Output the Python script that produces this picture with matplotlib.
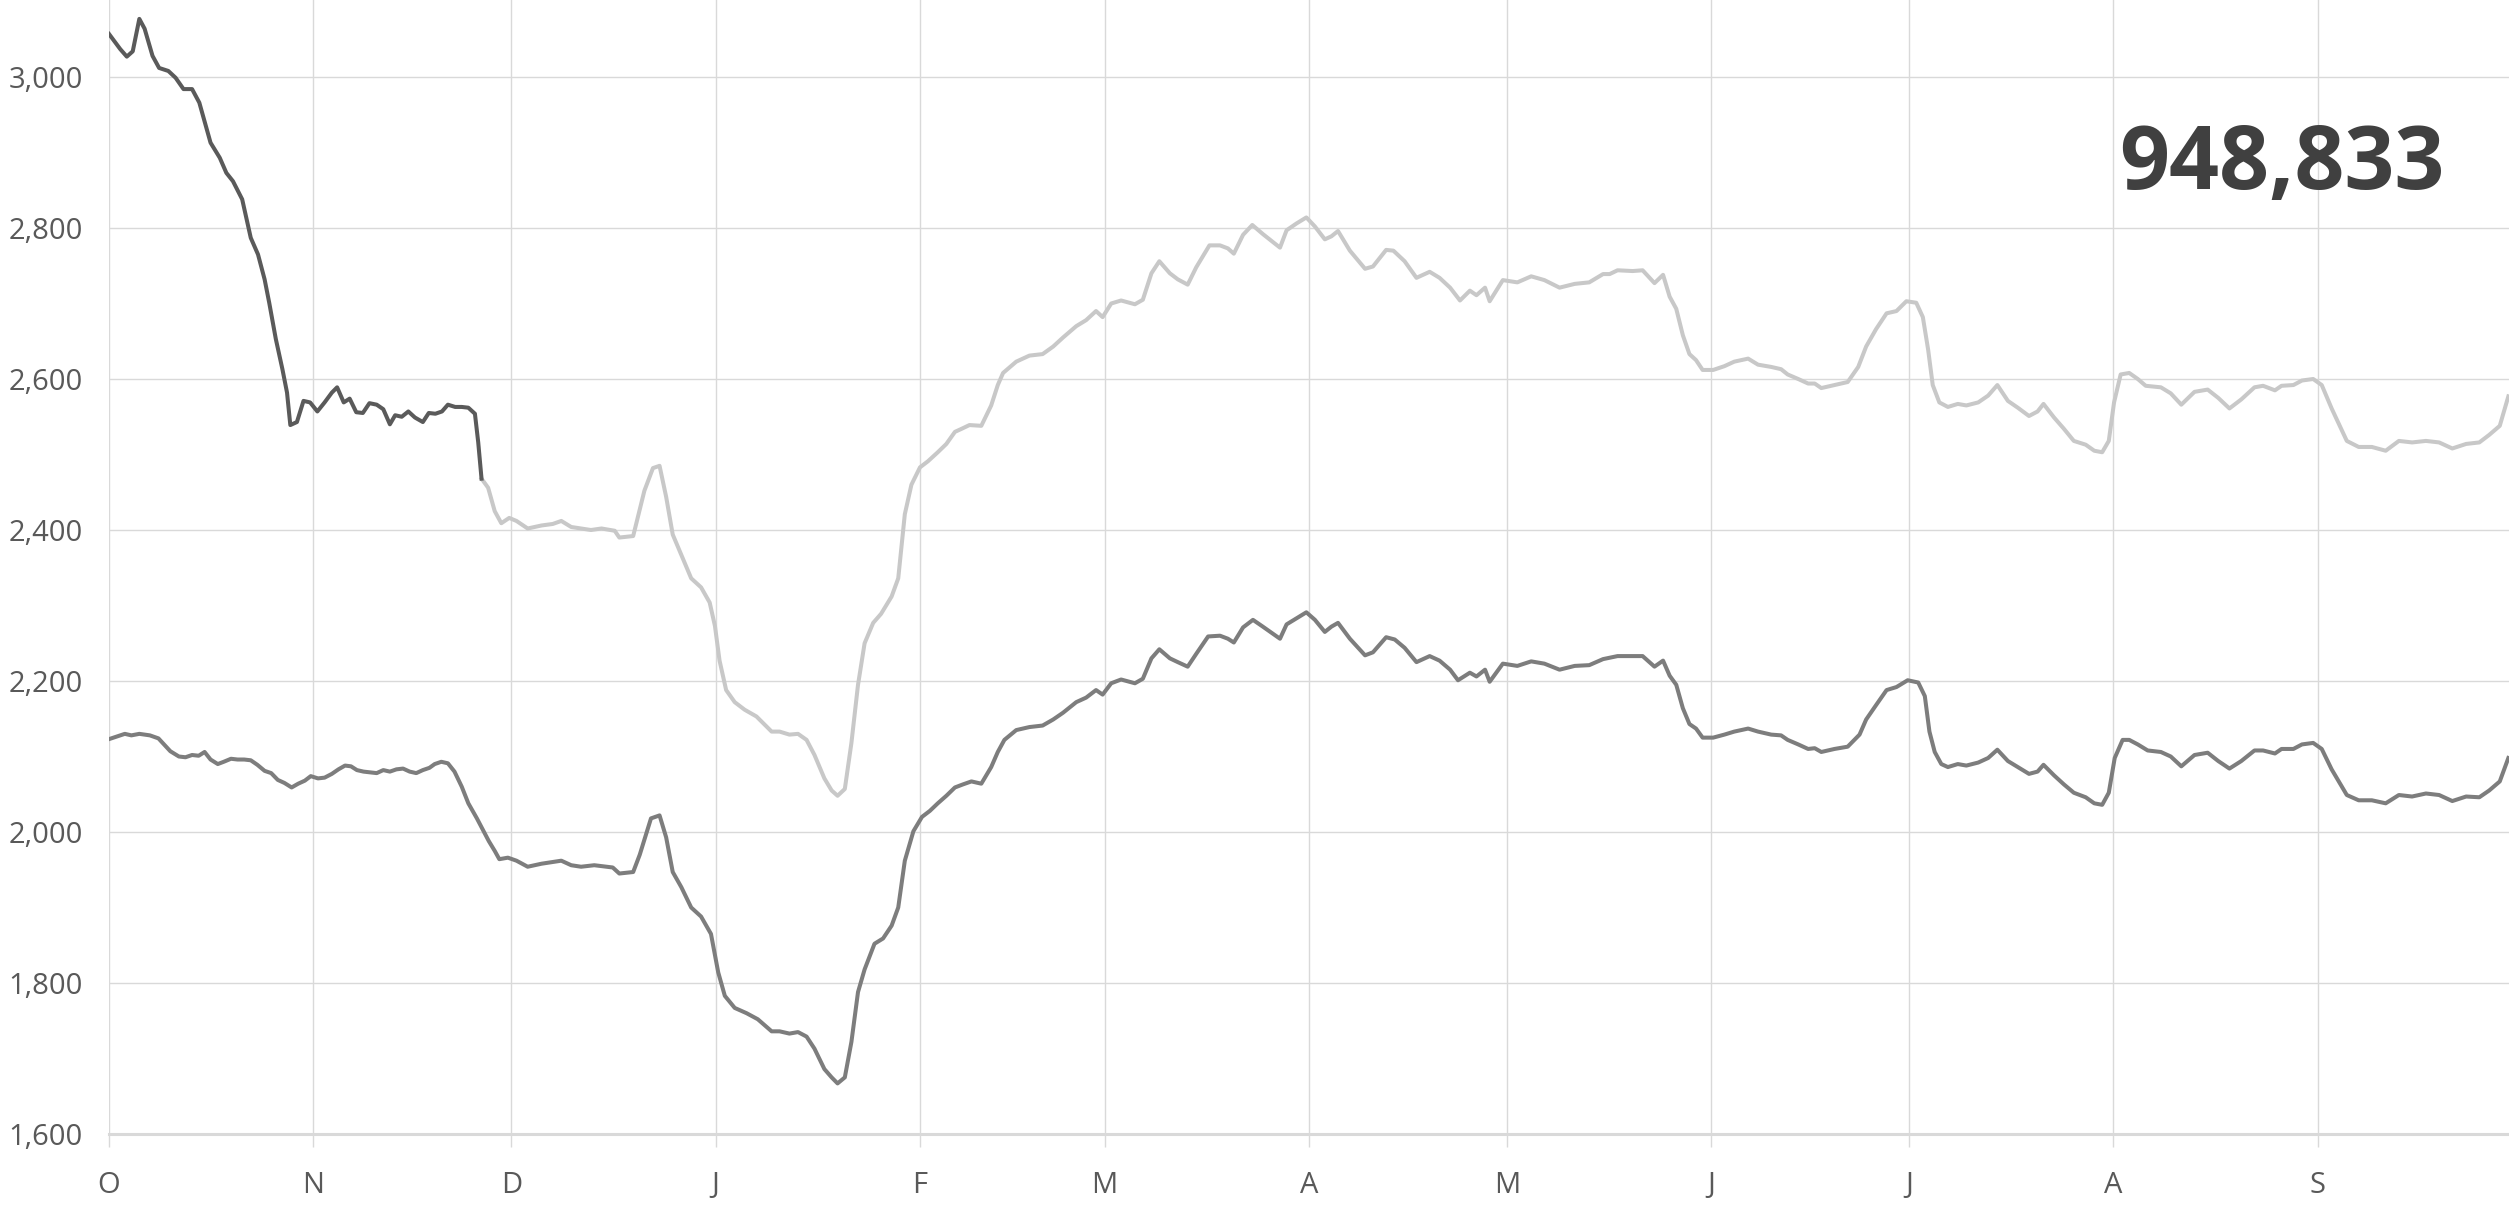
import numpy as np
import matplotlib
matplotlib.use('Agg')
import matplotlib.pyplot as plt

# data ------------------------------------------------------------------------

# x is day of the season, counted from 1 October
monthStarts = [0, 31, 61, 92, 123, 151, 182, 212, 243, 273, 304, 335]
monthLabels = ['O', 'N', 'D', 'J', 'F', 'M', 'A', 'M', 'J', 'J', 'A', 'S']
yTicks = [1600, 1800, 2000, 2200, 2400, 2600, 2800, 3000]
bigNumber = '948,833'

# upper series, first part (dark)
darkDays = [0.0, 1.7, 2.7, 3.6, 4.6, 5.4, 6.6, 7.6, 9.0, 10.1, 11.3, 12.6, 13.7,
            15.4, 16.8, 17.8, 18.8, 20.2, 21.5, 22.6, 23.6, 24.3, 25.3, 26.3,
            27.0, 27.5, 28.5, 29.5, 30.5, 31.6, 32.7, 33.8, 34.6, 35.6, 36.5,
            37.5, 38.5, 39.5, 40.6, 41.6, 42.6, 43.4, 44.4, 45.4, 46.4, 47.6,
            48.5, 49.5, 50.5, 51.4, 52.5, 53.5, 54.5, 55.5, 56.0, 56.5]
darkVals = [3057, 3037, 3027, 3034, 3077, 3064, 3028, 3012, 3008, 2999, 2984,
            2984, 2966, 2913, 2893, 2873, 2862, 2838, 2787, 2765, 2732, 2701,
            2653, 2613, 2582, 2539, 2543, 2571, 2569, 2557, 2569, 2582, 2589,
            2569, 2574, 2556, 2555, 2568, 2566, 2560, 2540, 2552, 2550, 2557,
            2549, 2543, 2555, 2554, 2557, 2566, 2563, 2563, 2562, 2554, 2516,
            2468]

# upper series, rest of the season (light)
lightDays = [56.5, 57.5, 58.5, 59.5, 60.7, 61.8, 63.5, 65.6, 67.3, 68.6, 70.1,
             71.6, 73.1, 74.7, 76.7, 77.4, 79.5, 81.2, 82.5, 83.5, 84.5, 85.5,
             86.8, 88.3, 89.8, 91.1, 91.9, 92.6, 93.6, 94.9, 96.4, 98.2, 100.5,
             101.7, 103.2, 104.5, 105.8, 107.0, 108.5, 109.6, 110.5, 111.6,
             112.6, 113.6, 114.6, 115.9, 117.1, 118.7, 119.7, 120.7, 121.7,
             123.0, 124.2, 125.7, 127.0, 128.3, 129.3, 130.5, 132.3, 133.8,
             134.8, 135.6, 137.6, 139.6, 141.6, 143.2, 144.7, 146.7, 148.2,
             149.7, 150.7, 152.0, 153.5, 155.6, 156.8, 158.1, 159.3, 160.9,
             162.1, 163.6, 164.9, 166.9, 168.5, 169.7, 170.6, 172.0, 173.4,
             175.0, 176.3, 177.6, 178.6, 180.1, 181.6, 182.9, 184.4, 185.4,
             186.4, 188.2, 190.5, 191.7, 193.7, 194.8, 196.5, 198.3, 200.3,
             201.8, 203.4, 204.9, 206.4, 207.4, 208.7, 209.4, 211.4, 213.6,
             215.7, 217.7, 220.0, 222.3, 224.5, 226.6, 227.6, 228.8, 231.1,
             232.6, 234.4, 235.7, 236.7, 237.7, 238.7, 239.7, 240.7, 241.7,
             243.3, 245.0, 246.5, 248.6, 250.1, 252.1, 253.6, 254.6, 256.2,
             257.7, 258.7, 259.7, 261.7, 263.7, 265.3, 266.5, 268.0, 269.6,
             271.1, 272.6, 274.1, 275.1, 275.9, 276.6, 277.6, 278.9, 280.4,
             281.7, 283.5, 285.0, 286.4, 288.0, 289.5, 291.2, 292.5, 293.4,
             295.0, 296.5, 298.0, 299.8, 301.1, 302.3, 303.3, 304.1, 305.1,
             306.4, 307.7, 308.9, 311.2, 312.7, 314.3, 316.3, 318.3, 319.9,
             321.6, 323.4, 325.4, 326.7, 328.5, 329.5, 331.3, 332.6, 334.3,
             335.6, 337.1, 339.4, 341.2, 343.2, 345.3, 347.3, 349.3, 351.4,
             353.4, 355.4, 357.5, 359.5, 361.0, 362.6, 363.9]
lightVals = [2468, 2456, 2425, 2409, 2416, 2412, 2402, 2406, 2408, 2412, 2404,
             2402, 2400, 2402, 2399, 2390, 2392, 2452, 2482, 2485, 2444, 2394,
             2367, 2336, 2324, 2304, 2273, 2227, 2188, 2172, 2162, 2153, 2133,
             2133, 2129, 2130, 2122, 2102, 2071, 2055, 2048, 2057, 2118, 2195,
             2250, 2277, 2289, 2312, 2336, 2421, 2460, 2483, 2491, 2503, 2514,
             2530, 2534, 2539, 2538, 2565, 2592, 2608, 2623, 2631, 2633, 2643,
             2655, 2670, 2678, 2690, 2682, 2700, 2704, 2699, 2705, 2740, 2756,
             2740, 2732, 2725, 2748, 2777, 2777, 2773, 2766, 2791, 2804, 2792,
             2783, 2774, 2797, 2806, 2814, 2802, 2785, 2789, 2796, 2770, 2746,
             2749, 2771, 2770, 2756, 2734, 2742, 2734, 2721, 2704, 2717, 2711,
             2721, 2703, 2731, 2728, 2736, 2731, 2721, 2726, 2728, 2739, 2739,
             2744, 2743, 2744, 2727, 2738, 2709, 2693, 2658, 2633, 2625, 2612,
             2612, 2617, 2623, 2627, 2619, 2616, 2613, 2606, 2600, 2594, 2594,
             2588, 2592, 2596, 2616, 2643, 2666, 2687, 2690, 2703, 2701, 2682,
             2639, 2592, 2569, 2563, 2567, 2565, 2569, 2578, 2592, 2571, 2562,
             2551, 2557, 2567, 2549, 2534, 2518, 2513, 2505, 2503, 2518, 2569,
             2606, 2608, 2600, 2591, 2589, 2581, 2566, 2583, 2586, 2575, 2561,
             2573, 2589, 2591, 2585, 2591, 2592, 2598, 2600, 2592, 2561, 2518,
             2510, 2510, 2505, 2518, 2516, 2518, 2516, 2508, 2514, 2516, 2526,
             2538, 2577]

# lower series (whole season)
lowDays = [0.0, 2.4, 3.4, 4.6, 6.2, 7.5, 9.3, 10.6, 11.6, 12.6, 13.6, 14.5,
           15.4, 16.5, 17.4, 18.5, 19.5, 20.5, 21.5, 22.5, 23.6, 24.6, 25.6,
           26.6, 27.7, 28.7, 29.7, 30.6, 31.7, 32.7, 33.8, 34.8, 35.8, 36.7,
           37.6, 38.6, 39.6, 40.6, 41.6, 42.6, 43.6, 44.6, 45.6, 46.6, 47.6,
           48.6, 49.4, 50.4, 51.4, 52.4, 53.5, 54.5, 55.8, 57.6, 58.5, 59.2,
           60.5, 61.8, 63.5, 65.6, 67.1, 68.6, 70.1, 71.6, 73.6, 76.4, 77.4,
           79.5, 80.5, 82.2, 83.5, 84.5, 85.5, 86.8, 88.3, 89.8, 91.3, 92.4,
           93.4, 94.9, 96.7, 98.4, 100.5, 101.7, 103.2, 104.5, 105.8, 107.0,
           108.5, 109.6, 110.5, 111.6, 112.6, 113.6, 114.6, 116.1, 117.4,
           118.7, 119.7, 120.7, 122.0, 123.3, 124.5, 125.7, 127.0, 128.3,
           129.5, 130.8, 132.3, 133.8, 134.8, 135.8, 137.6, 139.6, 141.6,
           143.2, 144.7, 146.7, 148.2, 149.7, 150.7, 152.0, 153.5, 155.6,
           156.8, 158.1, 159.3, 160.9, 162.1, 163.6, 164.9, 166.7, 168.5,
           169.7, 170.6, 172.0, 173.5, 175.0, 176.3, 177.6, 178.6, 180.1,
           181.6, 182.9, 184.4, 185.4, 186.4, 188.2, 190.5, 191.7, 193.7,
           195.0, 196.5, 198.3, 200.3, 201.8, 203.4, 204.6, 206.4, 207.4,
           208.7, 209.4, 211.4, 213.6, 215.7, 217.7, 220.0, 222.3, 224.5,
           226.6, 228.8, 231.1, 232.6, 234.4, 235.7, 236.7, 237.7, 238.7,
           239.7, 240.7, 241.7, 243.3, 245.0, 246.5, 248.6, 250.1, 252.1,
           253.6, 254.6, 256.2, 257.7, 258.7, 259.7, 261.7, 263.7, 265.5,
           266.5, 268.0, 269.6, 271.1, 272.8, 274.4, 275.4, 276.1, 276.9,
           277.9, 278.9, 280.4, 281.7, 283.5, 285.0, 286.4, 288.0, 289.5,
           291.2, 292.5, 293.4, 295.0, 296.5, 298.0, 299.8, 301.1, 302.3,
           303.3, 304.2, 305.4, 306.4, 307.7, 309.2, 311.2, 312.7, 314.3,
           316.3, 318.3, 319.9, 321.6, 323.4, 325.4, 326.7, 328.5, 329.5,
           331.3, 332.6, 334.3, 335.6, 337.1, 339.4, 341.2, 343.2, 345.3,
           347.3, 349.3, 351.4, 353.4, 355.4, 357.5, 359.5, 361.0, 362.6,
           363.9]
lowVals = [2123, 2130, 2128, 2130, 2128, 2124, 2107, 2100, 2099, 2102, 2101,
           2106, 2096, 2090, 2093, 2097, 2096, 2096, 2095, 2089, 2081, 2078,
           2069, 2065, 2059, 2064, 2068, 2074, 2071, 2072, 2077, 2083, 2088,
           2087, 2082, 2080, 2079, 2078, 2082, 2080, 2083, 2084, 2080, 2078,
           2082, 2085, 2090, 2093, 2091, 2080, 2060, 2038, 2018, 1988, 1975,
           1964, 1966, 1962, 1954, 1958, 1960, 1962, 1956, 1954, 1956, 1953,
           1945, 1947, 1970, 2018, 2022, 1993, 1947, 1927, 1900, 1888, 1865,
           1814, 1783, 1767, 1760, 1752, 1736, 1736, 1733, 1735, 1729, 1713,
           1686, 1675, 1667, 1675, 1722, 1788, 1818, 1852, 1859, 1876, 1900,
           1962, 2001, 2020, 2028, 2038, 2048, 2059, 2063, 2067, 2064, 2086,
           2106, 2122, 2135, 2139, 2141, 2149, 2158, 2172, 2178, 2188, 2182,
           2197, 2202, 2197, 2203, 2230, 2242, 2230, 2225, 2219, 2236, 2259,
           2260, 2256, 2251, 2271, 2281, 2272, 2264, 2256, 2275, 2283, 2291,
           2281, 2265, 2272, 2277, 2256, 2234, 2238, 2258, 2255, 2244, 2225,
           2233, 2227, 2215, 2201, 2211, 2206, 2215, 2199, 2223, 2220, 2226,
           2223, 2215, 2220, 2221, 2229, 2233, 2233, 2233, 2219, 2227, 2207,
           2195, 2164, 2143, 2137, 2125, 2125, 2129, 2133, 2137, 2133, 2129,
           2128, 2122, 2116, 2110, 2111, 2106, 2110, 2113, 2129, 2149, 2168,
           2188, 2192, 2201, 2198, 2180, 2133, 2106, 2090, 2086, 2090, 2088,
           2092, 2098, 2109, 2094, 2086, 2077, 2080, 2089, 2075, 2063, 2052,
           2046, 2038, 2036, 2052, 2098, 2122, 2122, 2116, 2108, 2106, 2100,
           2087, 2102, 2105, 2094, 2084, 2094, 2108, 2108, 2104, 2110, 2110,
           2116, 2118, 2110, 2083, 2049, 2042, 2042, 2038, 2049, 2047, 2051,
           2049, 2041, 2047, 2046, 2055, 2067, 2098]

# style -----------------------------------------------------------------------

GRID = '#d9d9d9'
TEXT = '#595959'
FONT = ['Open Sans', 'DejaVu Sans']

plt.rcParams['font.family'] = FONT

fig = plt.figure(figsize=(25.09, 12.10), dpi=100)
ax = fig.add_axes([109 / 2509, 76 / 1210, 1 - 109 / 2509, 1134 / 1210])

ax.plot(lightDays, lightVals, color='#c8c8c8', lw=2.9, solid_joinstyle='round', zorder=3)
ax.plot(darkDays, darkVals, color='#5a5a5a', lw=2.9, solid_joinstyle='round', zorder=4)
ax.plot(lowDays, lowVals, color='#7d7d7d', lw=2.9, solid_joinstyle='round', zorder=3)

ax.set_xlim(0, 364)
ax.set_ylim(1600, 3102)

ax.set_xticks(monthStarts)
ax.set_xticklabels(monthLabels)
ax.set_yticks(yTicks)
ax.set_yticklabels(['{:,}'.format(v) for v in yTicks])

ax.grid(True, color=GRID, lw=1.0, zorder=0)
ax.set_axisbelow(True)
for side in ['top', 'right', 'left']:
    ax.spines[side].set_visible(False)
ax.spines['bottom'].set_color(GRID)
ax.spines['bottom'].set_linewidth(2.2)

ax.tick_params(axis='x', length=9.5, width=1.0, color=GRID, pad=17,
               labelsize=21, labelcolor=TEXT)
ax.tick_params(axis='y', length=0, pad=19, labelsize=21, labelcolor=TEXT)

fig.text(2445 / 2509, 1 - 189 / 1210, bigNumber, ha='right', va='baseline',
         fontsize=63, fontweight='bold', color='#404040')

fig.savefig('out.png', dpi=100, facecolor='white')
